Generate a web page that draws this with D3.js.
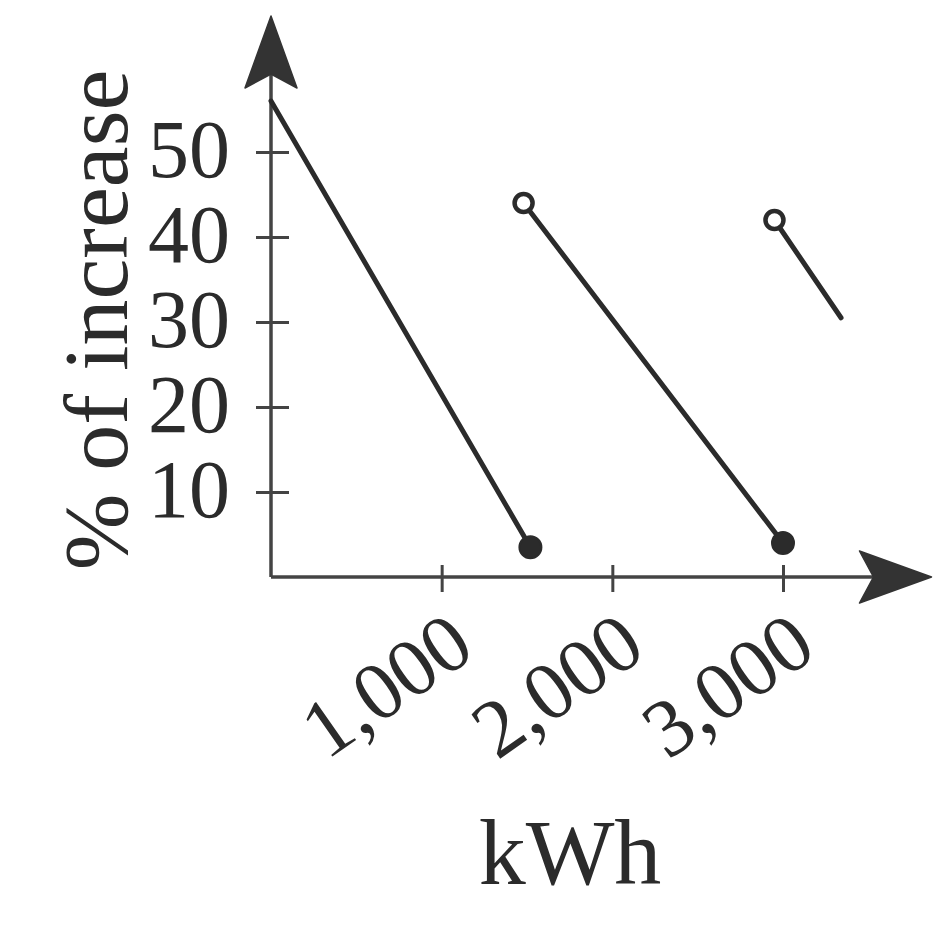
<!DOCTYPE html>
<html>
<head>
<meta charset="utf-8">
<script src="https://cdn.jsdelivr.net/npm/d3@7"></script>
<style>
  html, body { margin: 0; padding: 0; background: #fff; }
  svg { display: block; }
  text { font-family: "Liberation Serif", "DejaVu Serif", serif; fill: #2b2b2b; }
</style>
</head>
<body>
<svg id="chart" width="942" height="932"></svg>
<script>
// ---- data ----
const xTickValues = [1000, 2000, 3000];
const xTickLabels = ["1,000", "2,000", "3,000"];
const yTickValues = [10, 20, 30, 40, 50];
const yTickLabels = ["10", "20", "30", "40", "50"];

const segmentIds = ["A", "B", "C"];
const segXStart = [0, 1480, 2950];
const segYStart = [56, 44, 42];
const segXEnd   = [1520, 3000, 3340];
const segYEnd   = [3.5, 4, 30.5];
const segStartMark = ["none", "open", "open"];
const segEndMark   = ["closed", "closed", "none"];

const xTitle = "kWh";
const yTitle = "% of increase";

// ---- layout ----
const ox = 271, oy = 577;
const ink = "#2b2b2b";
const x = d3.scaleLinear().domain([0, 3000]).range([ox, 783]);
const y = d3.scaleLinear().domain([0, 50]).range([oy, 152]);
const xAxisEnd = 3870;   // arrow tip in data units
const yAxisEnd = 66;

const svg = d3.select("#chart");

// axes via d3
const gx = svg.append("g").attr("transform", `translate(0,${oy})`)
  .call(d3.axisBottom(x).tickValues(xTickValues).tickSize(15).tickFormat(() => ""));
gx.select(".domain").remove();
gx.selectAll(".tick line").attr("y1", -12).attr("stroke", "#444").attr("stroke-width", 3);

const gy = svg.append("g").attr("transform", `translate(${ox},0)`)
  .call(d3.axisLeft(y).tickValues(yTickValues).tickSize(15).tickFormat(() => ""));
gy.select(".domain").remove();
gy.selectAll(".tick line").attr("x1", -15).attr("x2", 18).attr("stroke", "#444").attr("stroke-width", 3);

// axis lines
svg.append("line").attr("x1", x(0)).attr("y1", y(0)).attr("x2", x(xAxisEnd) - 20).attr("y2", y(0))
  .attr("stroke", "#444").attr("stroke-width", 3.5);
svg.append("line").attr("x1", x(0)).attr("y1", y(0)).attr("x2", x(0)).attr("y2", y(yAxisEnd) + 20)
  .attr("stroke", "#444").attr("stroke-width", 3.5);

// arrowheads
function arrow(tx, ty, dirx, diry) {
  const len = 72, half = 26, notch = 14;
  const px = -diry, py = dirx;
  const bx = tx - dirx * len, by = ty - diry * len;
  const p = d3.path();
  p.moveTo(tx, ty);
  p.lineTo(bx + px * half, by + py * half);
  p.lineTo(tx - dirx * (len - notch), ty - diry * (len - notch));
  p.lineTo(bx - px * half, by - py * half);
  p.closePath();
  svg.append("path").attr("d", p.toString()).attr("fill", "#333").attr("stroke", "#333")
    .attr("stroke-width", 1.5).attr("stroke-linejoin", "round");
}
arrow(x(xAxisEnd), y(0), 1, 0);
arrow(x(0), y(yAxisEnd), 0, -1);

// tick labels
svg.append("g").selectAll("text").data(yTickValues).join("text")
  .attr("x", ox - 41).attr("y", d => y(d)).attr("dy", "0.3em")
  .attr("text-anchor", "end").attr("font-size", 82)
  .text((d, i) => yTickLabels[i]);

svg.append("g").selectAll("text").data(xTickValues).join("text")
  .attr("transform", d => `translate(${x(d) + 36},${oy + 78}) rotate(-35)`)
  .attr("text-anchor", "end").attr("font-size", 82)
  .text((d, i) => xTickLabels[i]);

// titles
svg.append("text").attr("x", 570).attr("y", 884).attr("text-anchor", "middle")
  .attr("font-size", 94).text(xTitle);
svg.append("text").attr("transform", `translate(127,320) rotate(-90)`)
  .attr("text-anchor", "middle").attr("font-size", 92).text(yTitle);

// segments
const segs = segmentIds.map((id, i) => ({
  id, x1: segXStart[i], y1: segYStart[i], x2: segXEnd[i], y2: segYEnd[i],
  s: segStartMark[i], e: segEndMark[i]
}));
svg.append("g").selectAll("line").data(segs).join("line")
  .attr("x1", d => x(d.x1)).attr("y1", d => y(d.y1))
  .attr("x2", d => x(d.x2)).attr("y2", d => y(d.y2))
  .attr("stroke", ink).attr("stroke-width", 5).attr("stroke-linecap", "round");

const marks = [];
segs.forEach(d => {
  if (d.s !== "none") marks.push({ x: d.x1, y: d.y1, t: d.s });
  if (d.e !== "none") marks.push({ x: d.x2, y: d.y2, t: d.e });
});
svg.append("g").selectAll("circle").data(marks).join("circle")
  .attr("cx", d => x(d.x)).attr("cy", d => y(d.y))
  .attr("r", d => d.t === "open" ? 9 : 11)
  .attr("fill", d => d.t === "open" ? "#fff" : ink)
  .attr("stroke", ink).attr("stroke-width", d => d.t === "open" ? 4.5 : 2);
</script>
</body>
</html>
